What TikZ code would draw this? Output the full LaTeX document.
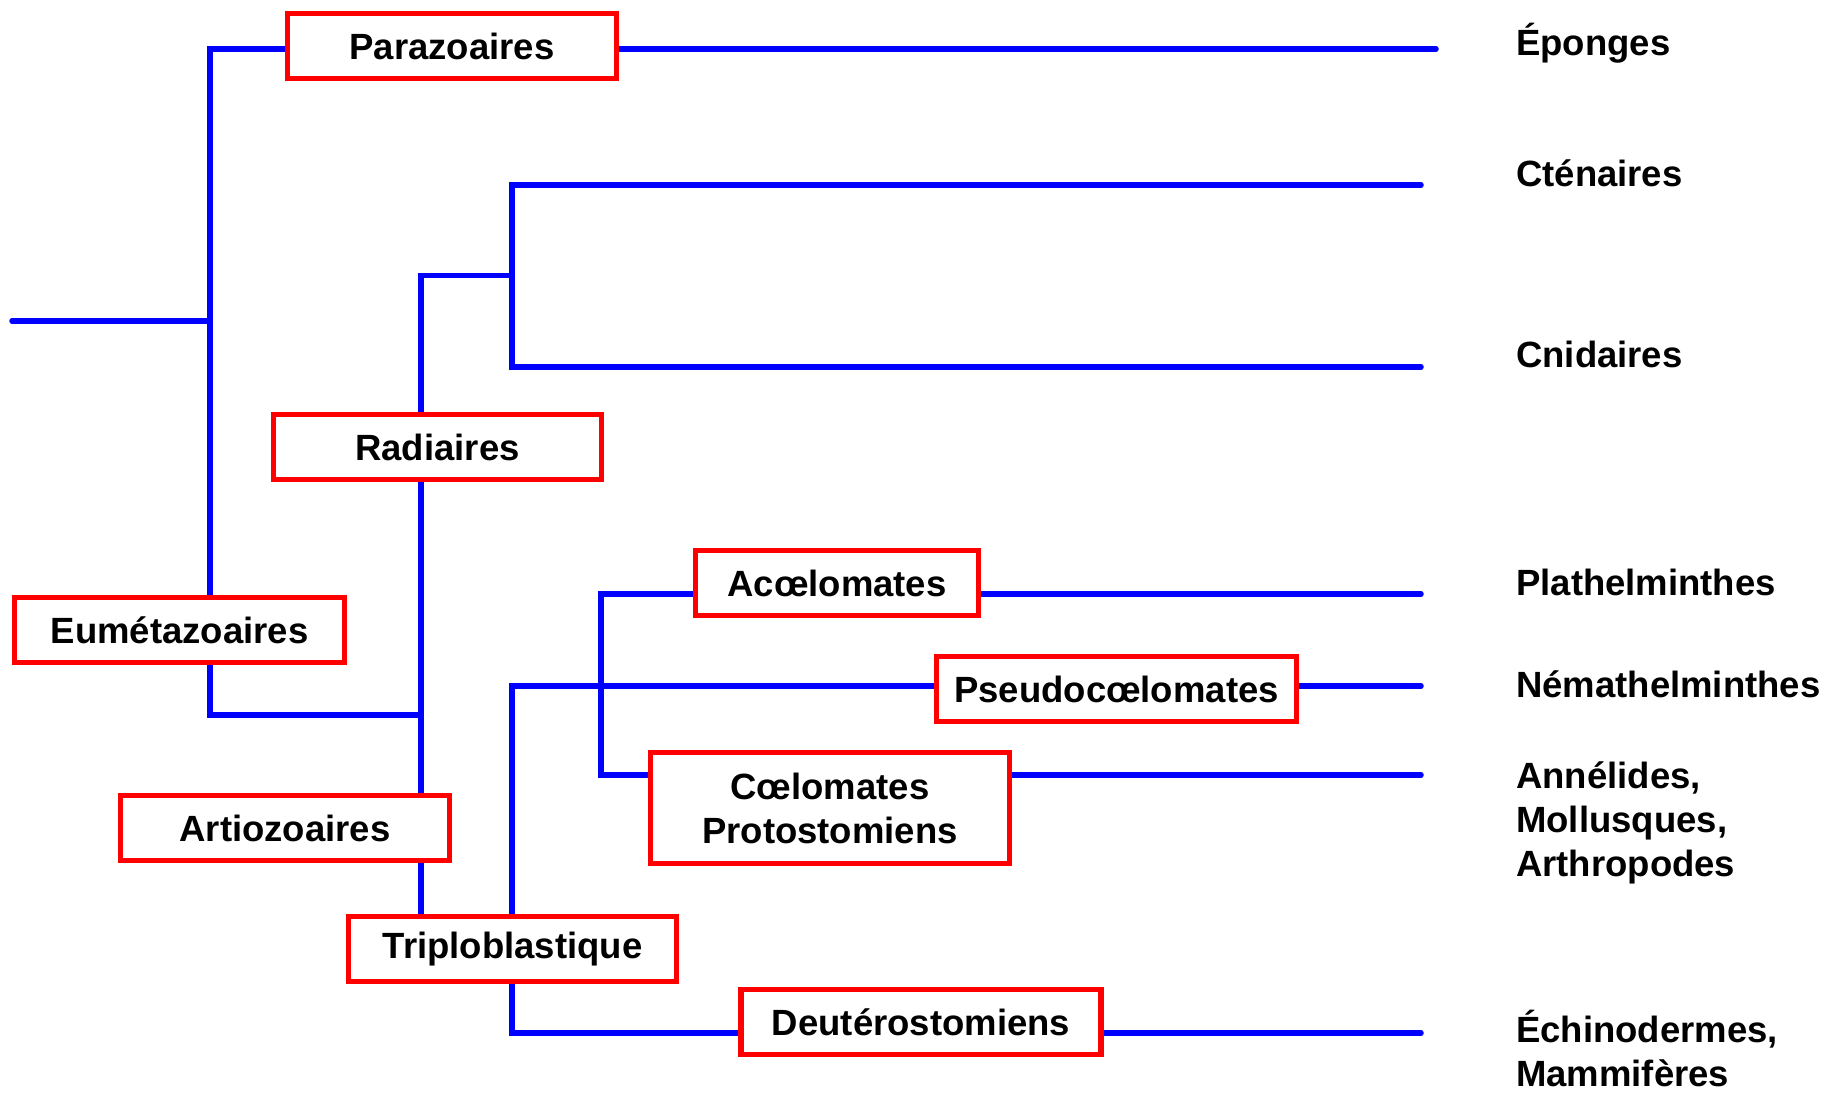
\documentclass[tikz,border=0pt]{standalone}
\usepackage{fontspec}
\setmainfont{Liberation Sans}
\usetikzlibrary{backgrounds}
\definecolor{tblue}{RGB}{0,0,255}
\definecolor{tred}{RGB}{255,0,0}
\begin{document}
\begin{tikzpicture}[x=1pt,y=-1pt,
  taxbox/.style={draw=tred, line width=5.5pt, fill=white, inner sep=0pt, align=center,
    font=\bfseries\fontsize{36.5}{44}\selectfont},
  leaf/.style={anchor=base west, inner sep=0pt, align=left,
    font=\bfseries\fontsize{36.5}{44}\selectfont},
  branch/.style={draw=tblue, line width=5.5pt, line cap=round, line join=miter}]
\useasboundingbox (0,0) rectangle (1838,1093);

% boxes
\node[taxbox, minimum width=329pt, minimum height=65pt] (para) at (452,46) {Parazoaires};
\node[taxbox, minimum width=328pt, minimum height=65pt] (rad) at (437.5,447) {Radiaires};
\node[taxbox, minimum width=330pt, minimum height=65pt] (eum) at (179.5,630) {Eumétazoaires};
\node[taxbox, minimum width=329pt, minimum height=65pt] (art) at (285,828) {Artiozoaires};
\node[taxbox, minimum width=328pt, minimum height=65pt] (tri) at (512.5,949) {Triploblastique};
\node[taxbox, minimum width=283pt, minimum height=65pt] (aco) at (837,583) {Acœlomates};
\node[taxbox, minimum width=360pt, minimum height=65pt] (pse) at (1116.5,689) {Pseudocœlomates};
\node[taxbox, minimum width=359pt, minimum height=111pt] (coe) at (830,808) {Cœlomates\\Protostomiens};
\node[taxbox, minimum width=360pt, minimum height=65pt] (deu) at (921,1022) {Deutérostomiens};

% leaf labels
\node[leaf] (epo) at (1516,55) {Éponges};
\node[leaf] (cte) at (1516,186) {Cténaires};
\node[leaf] (cni) at (1516,367) {Cnidaires};
\node[leaf] (pla) at (1516,595) {Plathelminthes};
\node[leaf] (nem) at (1516,697) {Némathelminthes};
\node[leaf, anchor=north west] (ann) at (1516,762) {Annélides,\\Mollusques,\\Arthropodes};
\node[leaf, anchor=north west] (ech) at (1516,1010) {Échinodermes,\\Mammifères};

% junction coordinates
\coordinate (root) at (12,321);
\coordinate (rootj) at (210,321);
\coordinate (eutop) at (210,49);
\coordinate (eubot) at (210,715);
\coordinate (eor) at (421,715);
\coordinate (radtop) at (421,275.5);
\coordinate (cnj) at (512,275.5);
\coordinate (cttop) at (512,185);
\coordinate (cnbot) at (512,367);
\coordinate (tritop) at (512,686);
\coordinate (tribot) at (512,1033);
\coordinate (actop) at (601,594);
\coordinate (acbot) at (601,775);
\coordinate (epoend) at (1436,49);
\coordinate (cteend) at (1421,185);
\coordinate (cniend) at (1421,367);
\coordinate (plaend) at (1421,594);
\coordinate (nemend) at (1421,686);
\coordinate (annend) at (1421,775);
\coordinate (echend) at (1421,1033);

\begin{scope}[on background layer]
\draw[branch] (root) -- (rootj);
\draw[branch] (eor) -- (eubot) -- (eutop) -- (epoend);
\draw[branch] (radtop |- tri.north) -- (radtop) -- (cnj);
\draw[branch] (cteend) -- (cttop) -- (cnbot) -- (cniend);
\draw[branch] (nemend) -- (tritop) -- (tribot) -- (echend);
\draw[branch] (plaend) -- (actop) -- (acbot) -- (annend);
\end{scope}
\end{tikzpicture}
\end{document}
